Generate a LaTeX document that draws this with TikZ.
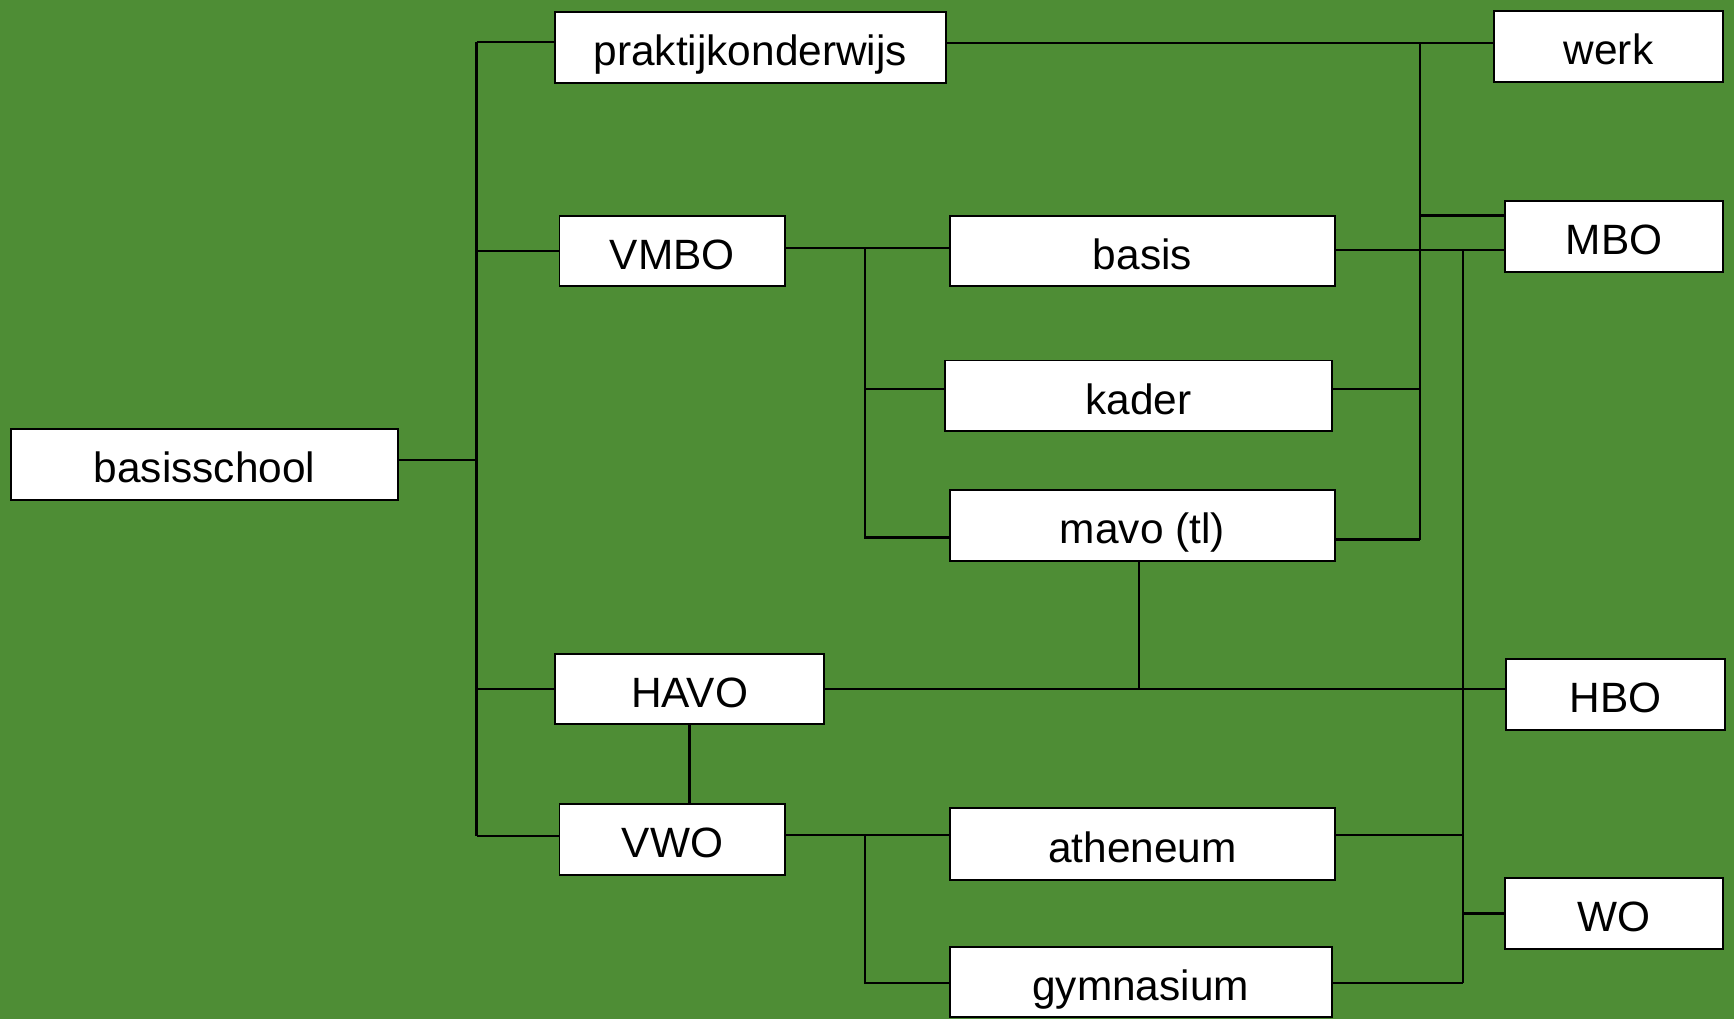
\documentclass[tikz,border=0pt]{standalone}
\usepackage{fontspec}
\setmainfont{Liberation Sans}
\definecolor{bggreen}{RGB}{78,141,53}
\begin{document}
\begin{tikzpicture}[x=0.01cm,y=-0.01cm,
  box/.style={draw=black, fill=white, line width=0.5pt, rectangle, inner sep=0pt,
    minimum height=0.64cm, text height=3.3mm, text depth=0mm,
    font=\fontsize{10.9}{13}\selectfont},
  conn/.style={draw=black, line width=0.6pt}]
\fill[bggreen] (0,0) rectangle (1568,921);
\useasboundingbox (0,0) rectangle (1568,921);
% nodes
\node[box, minimum width=3.50cm] (basisschool) at (185,420) {basisschool};
\node[box, minimum width=3.53cm] (prak) at (678.5,43) {praktijkonderwijs};
\node[box, minimum width=2.07cm] (werk) at (1454.5,42) {werk};
\node[box, minimum width=1.97cm] (MBO) at (1459.5,214) {MBO};
\node[box, minimum width=2.04cm] (VMBO) at (608,227) {VMBO};
\node[box, minimum width=3.48cm] (basis) at (1033,227) {basis};
\node[box, minimum width=3.49cm] (kader) at (1029.5,358) {kader};
\node[box, minimum width=3.48cm] (mavo) at (1033,475) {mavo (tl)};
\node[box, minimum width=2.43cm] (HAVO) at (623.5,623) {HAVO};
\node[box, minimum width=1.98cm] (HBO) at (1461,628) {HBO};
\node[box, minimum width=2.04cm] (VWO) at (608,759) {VWO};
\node[box, minimum width=3.48cm, minimum height=0.65cm] (atheneum) at (1033,763.5) {atheneum};
\node[box, minimum width=1.97cm] (WO) at (1459.5,826) {WO};
\node[box, minimum width=3.45cm] (gymnasium) at (1031.5,888) {gymnasium};
% junction coordinates
\coordinate (tTop) at (431,38);
\coordinate (tBs) at (431,416);
\coordinate (tV) at (431,227);
\coordinate (tH) at (431,623);
\coordinate (tBot) at (431,756);
\coordinate (w) at (1284,39);
\coordinate (m1) at (1284,195);
\coordinate (m2) at (1284,488);
\coordinate (k) at (1284,352);
\coordinate (vRt) at (1323,226);
\coordinate (vRb) at (1323,889);
\coordinate (a1) at (1323,755);
\coordinate (wo1) at (1323,826);
\coordinate (s1) at (782,224);
\coordinate (s3) at (782,352);
\coordinate (s2) at (782,486);
\coordinate (s4) at (782,755);
\coordinate (s5) at (782,889);
\coordinate (h1) at (1030,623);
% connectors
\draw[conn] (tTop) -- (tBot);
\draw[conn] (tTop) -- (tTop -| prak.west);
\draw[conn] (tBs -| basisschool.east) -- (tBs);
\draw[conn] (tV) -- (tV -| VMBO.west);
\draw[conn] (tH) -- (tH -| HAVO.west);
\draw[conn] (tBot) -- (tBot -| VWO.west);
\draw[conn] (w -| prak.east) -- (w -| werk.west);
\draw[conn] (w) -- (m2);
\draw[conn] (m1) -- (m1 -| MBO.west);
\draw[conn] (vRt -| basis.east) -- (vRt -| MBO.west);
\draw[conn] (k -| kader.east) -- (k);
\draw[conn] (m2 -| mavo.east) -- (m2);
\draw[conn] (s1 -| VMBO.east) -- (s1 -| basis.west);
\draw[conn] (s1) -- (s2) -- (s2 -| mavo.west);
\draw[conn] (s3) -- (s3 -| kader.west);
\draw[conn] (mavo.south -| h1) -- (h1);
\draw[conn] (h1 -| HAVO.east) -- (h1 -| HBO.west);
\draw[conn] (vRt) -- (vRb);
\draw[conn] (HAVO.south) -- (HAVO.south |- VWO.north);
\draw[conn] (s4 -| VWO.east) -- (s4 -| atheneum.west);
\draw[conn] (s4) -- (s5) -- (s5 -| gymnasium.west);
\draw[conn] (a1 -| atheneum.east) -- (a1);
\draw[conn] (vRb -| gymnasium.east) -- (vRb);
\draw[conn] (wo1) -- (wo1 -| WO.west);
\end{tikzpicture}
\end{document}
